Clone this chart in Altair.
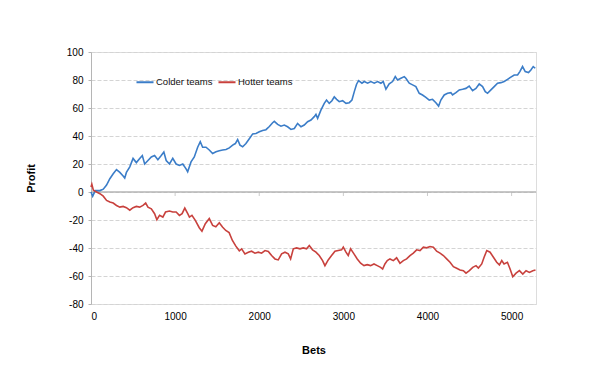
import altair as alt
import pandas as pd

# ---- data ----
series_names = ["Colder teams", "Hotter teams"]
series_colors = ["#3b7dc8", "#c8413d"]

bets_colder = [0, 20, 50, 106, 146, 185, 224, 264, 303, 343, 382, 401, 421, 461, 500, 539, 579, 610, 638, 677,
               717, 756, 795, 835, 866, 894, 933, 972, 1012, 1051, 1091, 1130, 1149, 1189, 1228, 1268, 1299, 1327,
               1367, 1406, 1446, 1486, 1525, 1565, 1605, 1644, 1684, 1716, 1743, 1771, 1803, 1842, 1882, 1922,
               1961, 2001, 2040, 2080, 2120, 2159, 2179, 2219, 2258, 2298, 2337, 2377, 2417, 2456, 2496, 2535,
               2575, 2615, 2654, 2674, 2694, 2733, 2773, 2800, 2832, 2864, 2892, 2920, 2951, 2991, 3031, 3070,
               3102, 3130, 3157, 3181, 3221, 3248, 3288, 3327, 3367, 3407, 3446, 3474, 3506, 3545, 3585, 3617,
               3644, 3684, 3724, 3743, 3783, 3823, 3862, 3902, 3941, 3981, 4021, 4060, 4100, 4132, 4159, 4199,
               4239, 4278, 4298, 4338, 4378, 4417, 4457, 4496, 4536, 4576, 4615, 4655, 4687, 4714, 4754, 4793,
               4833, 4873, 4912, 4952, 4991, 5031, 5071, 5098, 5130, 5162, 5201, 5229, 5257, 5281]
profit_colder = [0, -3, 1, 1, 2, 5, 9.5, 13, 16, 14, 11.5, 10, 14, 18, 24, 21, 24, 26, 20, 22.5,
                 25, 26, 23, 26, 28.5, 22.5, 20, 24, 20, 19, 20, 16.5, 14.5, 21.5, 25, 32, 36, 32,
                 32, 30, 27.5, 28.7, 29.4, 30, 30.3, 31.5, 33.5, 34.6, 37.5, 33.5, 32.3, 34.6, 38, 41.5,
                 41.8, 43, 44, 44.5, 46.8, 49.5, 50.5, 48.3, 47, 47.8, 46.6, 44.7, 45.4, 49, 46.6, 47.8,
                 50.2, 51.4, 53.8, 55.4, 52.6, 58.5, 63.3, 65.7, 63.3, 65.2, 68, 66.2, 64.5, 65.2, 63.3, 63.8,
                 65.7, 71.7, 77, 79.5, 77.7, 78.9, 77.7, 78.9, 77.7, 78.9, 77.7, 78.9, 73.4, 77.2, 78.9, 82.4,
                 80, 81.2, 82.4, 81.2, 77.7, 76.5, 75.3, 70.5, 69.3, 67.6, 65.7, 66.2, 63.8, 61.4, 65.7, 69.3,
                 70.5, 71, 69.3, 71, 72.9, 73.4, 74, 75.7, 72.4, 74, 77.2, 75.3, 71.7, 70.5, 72.9, 75.3,
                 77.7, 78.1, 78.9, 80.5, 82, 83.6, 83.6, 86, 89.6, 86, 85.3, 87.2, 89.6, 88.4]

bets_hotter = [0, 10, 28, 67, 106, 146, 185, 224, 264, 303, 343, 382, 421, 461, 500, 539, 579, 618, 650, 677,
               717, 756, 783, 815, 854, 886, 933, 972, 1012, 1051, 1083, 1115, 1150, 1170, 1200, 1240, 1287,
               1319, 1359, 1406, 1446, 1484, 1525, 1563, 1602, 1642, 1681, 1720, 1763, 1791, 1830, 1870, 1909,
               1949, 1989, 2028, 2068, 2108, 2147, 2187, 2226, 2266, 2306, 2345, 2373, 2405, 2444, 2484, 2523,
               2563, 2595, 2634, 2674, 2713, 2753, 2781, 2820, 2860, 2900, 2939, 2979, 2999, 3031, 3058, 3086,
               3126, 3165, 3205, 3245, 3284, 3324, 3364, 3403, 3443, 3467, 3494, 3522, 3554, 3594, 3633, 3673,
               3713, 3752, 3792, 3832, 3871, 3911, 3951, 3990, 4030, 4070, 4109, 4149, 4189, 4228, 4268, 4308,
               4347, 4387, 4427, 4458, 4498, 4538, 4577, 4605, 4645, 4673, 4705, 4744, 4784, 4823, 4855, 4883,
               4910, 4950, 4982, 5014, 5053, 5093, 5133, 5172, 5212, 5252, 5284]
profit_hotter = [3.5, 5.5, 1.2, 0, -1.2, -3, -6, -7.2, -7.9, -9.6, -10.8, -10.3, -11.2, -13, -11.2, -10.3, -10.8,
                 -9.6, -7.9, -10.8, -12, -15.5, -19.8, -16.7, -17.9, -14.3, -13.6, -14.3, -14.3, -16.7, -15.5,
                 -11.5, -15.5, -17.9, -16.7, -20.3, -25.5, -28, -22.7, -19, -23.9, -24.8, -22, -25, -27.5, -29,
                 -34.6, -38.5, -42, -40.6, -44.2, -43, -42.3, -43.7, -43, -43.7, -41.8, -42.5, -45.4, -47.8,
                 -48.5, -44.2, -43, -44.2, -47.8, -40.6, -39.9, -40.6, -39.9, -40.6, -38.2, -41.3, -43, -45.4,
                 -49, -52.6, -48.5, -45.4, -42.3, -41.8, -41.3, -39.4, -43, -45.4, -40.6, -44.2, -47.8, -50.9,
                 -52.6, -51.9, -52.6, -51.4, -52.6, -53.8, -55, -51.4, -49, -47.8, -49, -47, -50.9, -49, -47.8,
                 -45.4, -43.7, -41.3, -41.8, -39.4, -39.9, -38.9, -39.4, -42.3, -43.7, -45.4, -47.8, -50.2,
                 -53.3, -54.5, -55.7, -56.2, -58, -56.2, -53.8, -52.6, -54.3, -51.4, -46.6, -41.8, -43, -46.6,
                 -50.2, -52.1, -49, -51.4, -50.2, -55, -60.5, -58, -56.2, -58.6, -56.2, -57.4, -56.2, -55.7]

x_ticks = [0, 1000, 2000, 3000, 4000, 5000]
y_ticks = [-80, -60, -40, -20, 0, 20, 40, 60, 80, 100]
x_max = 5290

# ---- build tables ----
df = pd.concat([
    pd.DataFrame({"Bets": bets_colder, "Profit": profit_colder, "Series": series_names[0],
                  "idx": range(len(bets_colder))}),
    pd.DataFrame({"Bets": bets_hotter, "Profit": profit_hotter, "Series": series_names[1],
                  "idx": range(len(bets_hotter))}),
], ignore_index=True)
zero_df = pd.DataFrame({"Profit": [0]})
tick_df = pd.DataFrame({"Bets": x_ticks[1:], "Profit": [0] * (len(x_ticks) - 1)})

FONT = "Liberation Sans"
x_enc = alt.X("Bets:Q",
              scale=alt.Scale(domain=[0, x_max], nice=False, zero=False),
              axis=alt.Axis(values=x_ticks, format="d", grid=False, domain=False, ticks=False,
                            labelPadding=7, title="Bets", titlePadding=23))
y_enc = alt.Y("Profit:Q",
              scale=alt.Scale(domain=[-80, 100], nice=False),
              axis=alt.Axis(values=y_ticks, labelExpr="'' + datum.value",
                            grid=True, gridDash=[4, 2], gridColor="#d4d4d4",
                            domain=True, domainColor="#b5b5b5", ticks=True, tickSize=3,
                            tickColor="#b5b5b5", labelPadding=5, title="Profit", titlePadding=30))

lines = alt.Chart(df).mark_line(strokeWidth=1.6).encode(
    x=x_enc, y=y_enc,
    color=alt.Color("Series:N",
                    scale=alt.Scale(domain=series_names, range=series_colors),
                    legend=alt.Legend(orient="none", legendX=44, legendY=20, direction="horizontal",
                                      title=None, symbolType="stroke", symbolStrokeWidth=2,
                                      symbolSize=290, labelFontSize=9.5, labelFont=FONT,
                                      labelColor="#111", columnPadding=1, labelOffset=1)),
    order="idx:Q",
)

zero_rule = alt.Chart(zero_df).mark_rule(color="#b5b5b5", strokeWidth=1.5).encode(y=y_enc)
zero_ticks = alt.Chart(tick_df).mark_tick(orient="vertical", size=4, thickness=1, color="#b5b5b5",
                                          yOffset=2).encode(x=x_enc, y=y_enc)

chart = alt.layer(zero_rule, zero_ticks, lines).properties(
    width=445, height=252,
    autosize=alt.AutoSizeParams(type="none"),
    padding={"left": 91, "top": 52, "right": 64, "bottom": 73},
).configure_view(stroke=None).configure_axis(
    labelFont=FONT, labelFontSize=10, labelColor="#222",
    titleFont=FONT, titleFontSize=10, titleFontWeight="bold", titleColor="#000",
).configure(background="white")

chart.save("out.html", embed_options={"renderer": "svg", "actions": False})
